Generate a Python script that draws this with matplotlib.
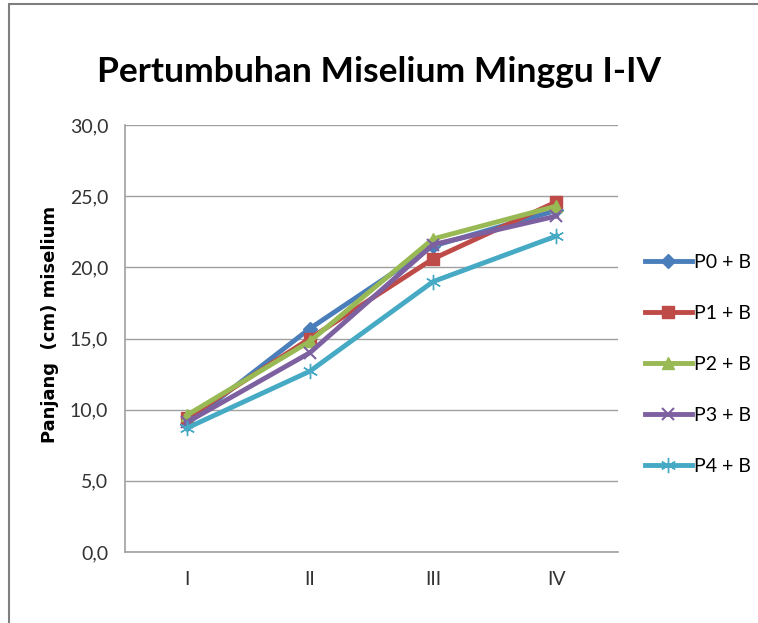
import matplotlib
matplotlib.use('Agg')
import matplotlib.pyplot as plt
from matplotlib.patches import Rectangle

plt.rcParams['font.family'] = ['Lato', 'DejaVu Sans']

# data
minggu = ['I', 'II', 'III', 'IV']
p0 = [9.0, 15.7, 21.5, 24.0]
p1 = [9.4, 15.0, 20.6, 24.6]
p2 = [9.6, 14.8, 22.0, 24.3]
p3 = [9.1, 14.0, 21.6, 23.6]
p4 = [8.7, 12.7, 19.0, 22.2]

labels = ['P0 + B', 'P1 + B', 'P2 + B', 'P3 + B', 'P4 + B']
series = [p0, p1, p2, p3, p4]
colors = ['#4A7EBB', '#BE4B48', '#98B954', '#7D60A0', '#46AAC5']
markers = ['D', 's', '^', 'x', (6, 2, 0)]
msizes = [7, 8, 8, 9, 11]

fig = plt.figure(figsize=(7.58, 6.23), dpi=100)
# chart frame
fig.patches.append(Rectangle((9/758, -0.1), 1.2, 1 - 4/623 + 0.1,
                             transform=fig.transFigure, fill=False,
                             edgecolor='#7f7f7f', lw=1.5))

ax = fig.add_axes([125/758, 1 - 552/623, (618 - 125)/758, (552 - 125)/623])
x = range(len(minggu))
for s, lab, c, m, ms in zip(series, labels, colors, markers, msizes):
    ax.plot(x, s, color=c, lw=3.5, marker=m, markersize=ms,
            markeredgewidth=1.5 if m in ('x',) else 1, label=lab,
            markeredgecolor=c, markerfacecolor=c)

ax.set_xlim(-0.5, 3.5)
ax.set_ylim(0, 30)
ax.set_yticks(range(0, 31, 5))
ax.set_yticklabels(['%d,0' % v for v in range(0, 31, 5)])
ax.set_xticks(list(x))
ax.set_xticklabels(minggu)
ax.tick_params(length=0, labelsize=14, colors='#333333', pad=12)
ax.tick_params(axis='x', pad=14)
ax.grid(axis='y', color='#a0a0a0', lw=1)
ax.set_axisbelow(True)
for sp in ['top', 'right']:
    ax.spines[sp].set_visible(False)
for sp in ['left', 'bottom']:
    ax.spines[sp].set_color('#a0a0a0')
    ax.spines[sp].set_linewidth(1.2)

fig.text(50/758, 1 - 324/623, 'Panjang  (cm) miselium', rotation=90,
         ha='center', va='center', fontsize=13, fontweight='bold',
         family=['DejaVu Sans'])
fig.text(0.5, 1 - 72/623, 'Pertumbuhan Miselium Minggu I-IV', ha='center', va='center',
         fontsize=25.5, fontweight='bold')

ax.legend(loc='upper left', bbox_to_anchor=(645/758, 1 - 254/623),
          bbox_transform=fig.transFigure, frameon=False,
          fontsize=14, labelspacing=1.75, handlelength=2.4, handletextpad=0.1,
          borderaxespad=0, borderpad=0)

fig.savefig('out.png', dpi=100)
